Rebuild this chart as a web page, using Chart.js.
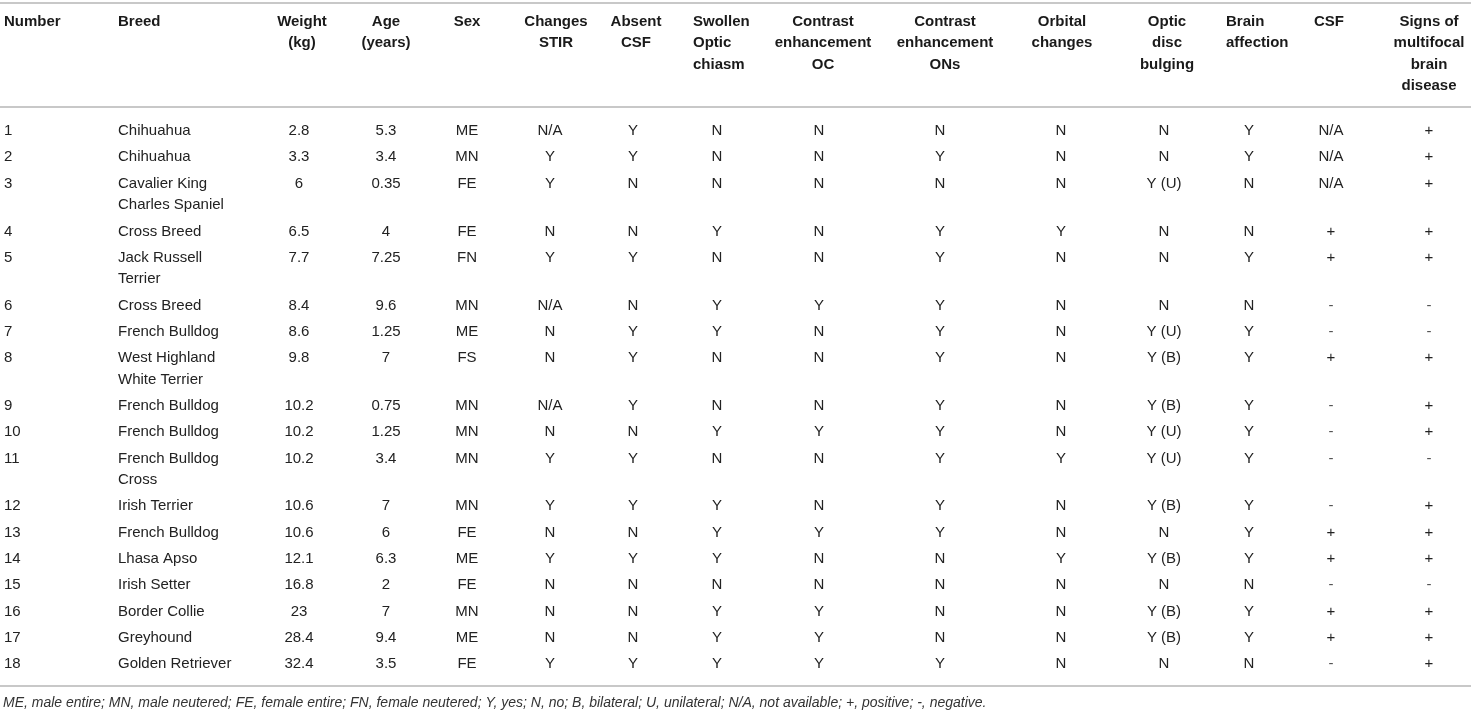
<!DOCTYPE html>
<html>
<head>
<meta charset="utf-8">
<script src="https://cdn.jsdelivr.net/npm/chart.js@4.4.1/dist/chart.umd.min.js"></script>
<style>
html,body{margin:0;padding:0;background:#ffffff;}
#wrap{position:relative;width:1471px;height:713px;}
</style>
</head>
<body>
<div id="wrap"><canvas id="c"></canvas></div>
<script>
// ---------- DATA ----------
const headers = [
  ["Number"], ["Breed"], ["Weight", "(kg)"], ["Age", "(years)"], ["Sex"],
  ["Changes", "STIR"], ["Absent", "CSF"], ["Swollen", "Optic", "chiasm"],
  ["Contrast", "enhancement", "OC"], ["Contrast", "enhancement", "ONs"],
  ["Orbital", "changes"], ["Optic", "disc", "bulging"], ["Brain", "affection"],
  ["CSF"], ["Signs of", "multifocal", "brain", "disease"]
];
const numbers = [1, 2, 3, 4, 5, 6, 7, 8, 9, 10, 11, 12, 13, 14, 15, 16, 17, 18];
const breeds = [
  "Chihuahua", "Chihuahua", "Cavalier King Charles Spaniel", "Cross Breed",
  "Jack Russell Terrier", "Cross Breed", "French Bulldog", "West Highland White Terrier",
  "French Bulldog", "French Bulldog", "French Bulldog Cross", "Irish Terrier",
  "French Bulldog", "Lhasa Apso", "Irish Setter", "Border Collie", "Greyhound",
  "Golden Retriever"
];
const weights = ["2.8", "3.3", "6", "6.5", "7.7", "8.4", "8.6", "9.8", "10.2", "10.2", "10.2", "10.6", "10.6", "12.1", "16.8", "23", "28.4", "32.4"];
const ages = ["5.3", "3.4", "0.35", "4", "7.25", "9.6", "1.25", "7", "0.75", "1.25", "3.4", "7", "6", "6.3", "2", "7", "9.4", "3.5"];
const sexes = ["ME", "MN", "FE", "FE", "FN", "MN", "ME", "FS", "MN", "MN", "MN", "MN", "FE", "ME", "FE", "MN", "ME", "FE"];
const changesSTIR = ["N/A", "Y", "Y", "N", "Y", "N/A", "N", "N", "N/A", "N", "Y", "Y", "N", "Y", "N", "N", "N", "Y"];
const absentCSF = ["Y", "Y", "N", "N", "Y", "N", "Y", "Y", "Y", "N", "Y", "Y", "N", "Y", "N", "N", "N", "Y"];
const swollenChiasm = ["N", "N", "N", "Y", "N", "Y", "Y", "N", "N", "Y", "N", "Y", "Y", "Y", "N", "Y", "Y", "Y"];
const contrastOC = ["N", "N", "N", "N", "N", "Y", "N", "N", "N", "Y", "N", "N", "Y", "N", "N", "Y", "Y", "Y"];
const contrastONs = ["N", "Y", "N", "Y", "Y", "Y", "Y", "Y", "Y", "Y", "Y", "Y", "Y", "N", "N", "N", "N", "Y"];
const orbitalChanges = ["N", "N", "N", "Y", "N", "N", "N", "N", "N", "N", "Y", "N", "N", "Y", "N", "N", "N", "N"];
const discBulging = ["N", "N", "Y (U)", "N", "N", "N", "Y (U)", "Y (B)", "Y (B)", "Y (U)", "Y (U)", "Y (B)", "N", "Y (B)", "N", "Y (B)", "Y (B)", "N"];
const brainAffection = ["Y", "Y", "N", "N", "Y", "N", "Y", "Y", "Y", "Y", "Y", "Y", "Y", "Y", "N", "Y", "Y", "N"];
const csf = ["N/A", "N/A", "N/A", "+", "+", "-", "-", "+", "-", "-", "-", "-", "+", "+", "-", "+", "+", "-"];
const multifocal = ["+", "+", "+", "+", "+", "-", "-", "+", "+", "+", "-", "+", "+", "+", "-", "+", "+", "+"];
const footnote = "ME, male entire; MN, male neutered; FE, female entire; FN, female neutered; Y, yes; N, no; B, bilateral; U, unilateral; N/A, not available; +, positive; -, negative.";

const columnsData = [numbers, breeds, weights, ages, sexes, changesSTIR, absentCSF, swollenChiasm,
  contrastOC, contrastONs, orbitalChanges, discBulging, brainAffection, csf, multifocal];

// ---------- LAYOUT (scale units) ----------
const colLayout = [
  {x: 4, align: "left", hx: 4, halign: "left"},
  {x: 118, align: "left", hx: 118, halign: "left"},
  {x: 299, align: "center", hx: 302, halign: "center"},
  {x: 386, align: "center", hx: 386, halign: "center"},
  {x: 467, align: "center", hx: 467, halign: "center"},
  {x: 550, align: "center", hx: 556, halign: "center"},
  {x: 633, align: "center", hx: 636, halign: "center"},
  {x: 717, align: "center", hx: 693, halign: "left"},
  {x: 819, align: "center", hx: 823, halign: "center"},
  {x: 940, align: "center", hx: 945, halign: "center"},
  {x: 1061, align: "center", hx: 1062, halign: "center"},
  {x: 1164, align: "center", hx: 1167, halign: "center"},
  {x: 1249, align: "center", hx: 1226, halign: "left"},
  {x: 1331, align: "center", hx: 1329, halign: "center"},
  {x: 1429, align: "center", hx: 1429, halign: "center"}
];
const breedWrapWidth = 122;   // in x-scale units
const wrapLineStep = 0.818;   // extra y units per wrapped line
const headerFirstLine = -4.144;
const headerLineStep = 0.81;
const rules = [-4.867, -0.913, 21.10];
const footnoteY = 21.75;

const FONT_FAMILY = '"Liberation Sans", Arial, Helvetica, sans-serif';

function wrapText(ctx, text, maxW) {
  const words = text.split(" ");
  const lines = [];
  let cur = "";
  for (const w of words) {
    const t = cur ? cur + " " + w : w;
    if (cur && ctx.measureText(t).width > maxW) { lines.push(cur); cur = w; }
    else cur = t;
  }
  if (cur) lines.push(cur);
  return lines;
}

const tablePlugin = {
  id: "tablePlugin",
  afterDraw(chart) {
    const ctx = chart.ctx;
    const xs = chart.scales.x, ys = chart.scales.y;
    const px = v => xs.getPixelForValue(v);
    const py = v => ys.getPixelForValue(v);
    const unitX = px(1) - px(0);
    ctx.save();

    // rules
    ctx.strokeStyle = "#c8c8c8";
    ctx.lineWidth = 2;
    rules.forEach(r => {
      ctx.beginPath();
      ctx.moveTo(px(0), py(r));
      ctx.lineTo(px(1471), py(r));
      ctx.stroke();
    });

    // headers
    ctx.fillStyle = "#1a1a1a";
    ctx.font = "bold 15px " + FONT_FAMILY;
    ctx.textBaseline = "middle";
    headers.forEach((lines, c) => {
      const L = colLayout[c];
      ctx.textAlign = L.halign;
      lines.forEach((t, k) => {
        ctx.fillText(t, px(L.hx), py(headerFirstLine + k * headerLineStep));
      });
    });

    // body
    ctx.font = "15px " + FONT_FAMILY;
    ctx.fillStyle = "#222222";
    let extra = 0;
    for (let r = 0; r < numbers.length; r++) {
      const rowY = r + extra * wrapLineStep;
      const breedLines = wrapText(ctx, breeds[r], breedWrapWidth * unitX);
      columnsData.forEach((arr, c) => {
        const L = colLayout[c];
        ctx.textAlign = L.align;
        if (c === 1) {
          breedLines.forEach((t, k) => ctx.fillText(t, px(L.x), py(rowY + k * wrapLineStep)));
        } else {
          const v = String(arr[r]);
          ctx.fillStyle = v === "-" ? "#555555" : "#222222";
          ctx.fillText(v, px(L.x), py(rowY));
          ctx.fillStyle = "#222222";
        }
      });
      extra += breedLines.length - 1;
    }

    // footnote
    ctx.font = "italic 14px " + FONT_FAMILY;
    ctx.fillStyle = "#333333";
    ctx.textAlign = "left";
    ctx.fillText(footnote, px(3), py(footnoteY));
    ctx.restore();
  }
};

new Chart(document.getElementById("c"), {
  type: "scatter",
  data: { datasets: [] },
  options: {
    responsive: true,
    maintainAspectRatio: false,
    animation: false,
    layout: { padding: 0 },
    plugins: { legend: { display: false }, tooltip: { enabled: false }, title: { display: false } },
    scales: {
      x: { type: "linear", min: 0, max: 1471, display: false },
      y: { type: "linear", min: -4.981, max: 22.129, reverse: true, display: false }
    }
  },
  plugins: [tablePlugin]
});
</script>
</body>
</html>
